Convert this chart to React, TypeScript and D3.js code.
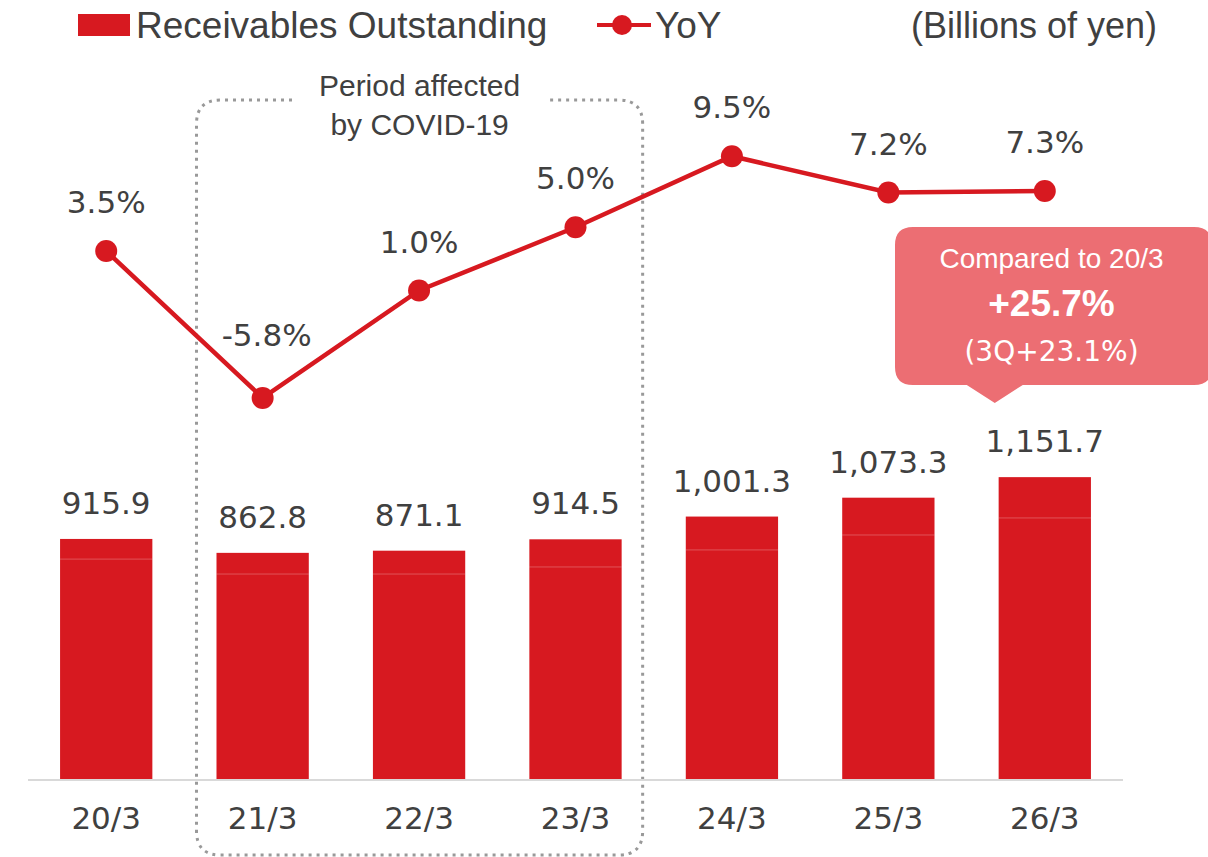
import React from 'react';
import * as d3 from 'd3';

const categories = ['20/3', '21/3', '22/3', '23/3', '24/3', '25/3', '26/3'];
const receivables = [915.9, 862.8, 871.1, 914.5, 1001.3, 1073.3, 1151.7];
const receivablesLabels = ['915.9', '862.8', '871.1', '914.5', '1,001.3', '1,073.3', '1,151.7'];
// faint seam inside each bar
const innerSeam = [839, 782, 782, 809, 874, 931, 996];
const yoy = [3.5, -5.8, 1.0, 5.0, 9.5, 7.2, 7.3];
const yoyLabels = ['3.5%', '-5.8%', '1.0%', '5.0%', '9.5%', '7.2%', '7.3%'];
const covidPeriod = ['21/3', '23/3'];
const calloutLines = ['Compared to 20/3', '+25.7%', '(3Q+23.1%)'];

const RED = '#D71920';
const TEXT = '#404040';
const ARIAL = 'Arial, "Liberation Sans", sans-serif';
const DEJAVU = '"DejaVu Sans", Verdana, sans-serif';

const W = 1208;
const H = 857;

const App = () => {
  const x = d3.scaleBand<string>()
    .domain(categories)
    .range([28, 1123])
    .paddingInner(0.41)
    .paddingOuter(0.205);
  const bw = x.bandwidth();
  const cx = (c: string) => (x(c) as number) + bw / 2;

  const yBar = d3.scaleLinear().domain([0, 2000]).range([779, 779 - 0.2621 * 2000]);
  const yLine = d3.scaleLinear().domain([-10, 12]).range([306.3 + 158, 306.3 - 15.8 * 12]);

  const line = d3.line<number>()
    .x((_, i) => cx(categories[i]))
    .y(d => yLine(d));

  // covid box
  const bx0 = (x(covidPeriod[0]) as number) - 20;
  const bx1 = (x(covidPeriod[1]) as number) + bw + 21;
  const by0 = 100, by1 = 855, r = 24;
  const gapL = 292, gapR = 548;
  const boxPath = `M${gapL},${by0} L${bx0 + r},${by0} Q${bx0},${by0} ${bx0},${by0 + r} L${bx0},${by1 - r} Q${bx0},${by1} ${bx0 + r},${by1} L${bx1 - r},${by1} Q${bx1},${by1} ${bx1},${by1 - r} L${bx1},${by0 + r} Q${bx1},${by0} ${bx1 - r},${by0} L${gapR},${by0}`;

  // callout
  const last = categories[categories.length - 1];
  const tipX = cx(last) - 50;
  const cl = 895, cr = 1212, ct = 227, cb = 385, cr2 = 18;
  const calloutPath = `M${cl + cr2},${ct} L${cr - cr2},${ct} Q${cr},${ct} ${cr},${ct + cr2} L${cr},${cb - cr2} Q${cr},${cb} ${cr - cr2},${cb} L${tipX + 28},${cb} L${tipX},${cb + 18} L${tipX - 28},${cb} L${cl + cr2},${cb} Q${cl},${cb} ${cl},${cb - cr2} L${cl},${ct + cr2} Q${cl},${ct} ${cl + cr2},${ct} Z`;
  const calloutCx = (cl + 1208) / 2;

  return (
    <svg width={W} height={H} style={{ position: 'absolute', left: 0, top: 0, background: '#fff' }}>
      {/* legend */}
      <rect x={78} y={14} width={52} height={22} fill={RED} />
      <text x={136} y={38} fontFamily={ARIAL} fontSize={37} fill={TEXT}>Receivables Outstanding</text>
      <line x1={597} x2={651} y1={25} y2={25} stroke={RED} strokeWidth={4} />
      <circle cx={622} cy={25} r={10} fill={RED} />
      <text x={655} y={38} fontFamily={ARIAL} fontSize={37} fill={TEXT}>YoY</text>
      <text x={1157} y={38} textAnchor="end" fontFamily={ARIAL} fontSize={36} fill={TEXT}>(Billions of yen)</text>

      {/* covid box */}
      <path d={boxPath} fill="none" stroke="#999999" strokeWidth={3} strokeDasharray="3 5" />
      <text x={(bx0 + bx1) / 2} y={96} textAnchor="middle" fontFamily={ARIAL} fontSize={30} fill={TEXT}>Period affected</text>
      <text x={(bx0 + bx1) / 2} y={135} textAnchor="middle" fontFamily={ARIAL} fontSize={30} fill={TEXT}>by COVID-19</text>

      {/* bars */}
      {receivables.map((v, i) => (
        <g key={categories[i]}>
          <rect x={x(categories[i])} y={yBar(v)} width={bw} height={yBar(0) - yBar(v)} fill={RED} />
          <line x1={x(categories[i])} x2={(x(categories[i]) as number) + bw}
            y1={yBar(innerSeam[i])} y2={yBar(innerSeam[i])} stroke="#ffffff" strokeOpacity={0.25} strokeWidth={1} />
          <text x={cx(categories[i])} y={yBar(v) - 25} textAnchor="middle" fontFamily={DEJAVU} fontSize={31} fill={TEXT}>
            {receivablesLabels[i]}
          </text>
        </g>
      ))}

      {/* axis */}
      <line x1={28} x2={1123} y1={780} y2={780} stroke="#D9D9D9" strokeWidth={2} />
      {categories.map(c => (
        <text key={c} x={cx(c)} y={829} textAnchor="middle" fontFamily={DEJAVU} fontSize={31} fill={TEXT}>{c}</text>
      ))}

      {/* yoy line */}
      <path d={line(yoy) || ''} fill="none" stroke={RED} strokeWidth={4.5} />
      {yoy.map((v, i) => (
        <g key={'p' + i}>
          <circle cx={cx(categories[i])} cy={yLine(v)} r={11} fill={RED} />
          <text x={cx(categories[i]) + (v < 0 ? 4 : 0)} y={yLine(v) - (v < 0 ? 52 : 38)} textAnchor="middle"
            fontFamily={DEJAVU} fontSize={31} fill={TEXT}>{yoyLabels[i]}</text>
        </g>
      ))}

      {/* callout */}
      <path d={calloutPath} fill="#EC6E73" />
      <text x={calloutCx} y={268} textAnchor="middle" fontFamily={ARIAL} fontSize={28} fill="#fff">{calloutLines[0]}</text>
      <text x={calloutCx} y={316} textAnchor="middle" fontFamily={ARIAL} fontSize={37} fontWeight="bold" fill="#fff">{calloutLines[1]}</text>
      <text x={calloutCx} y={361} textAnchor="middle" fontFamily={DEJAVU} fontSize={28} fill="#fff">{calloutLines[2]}</text>
    </svg>
  );
};

export default App;
